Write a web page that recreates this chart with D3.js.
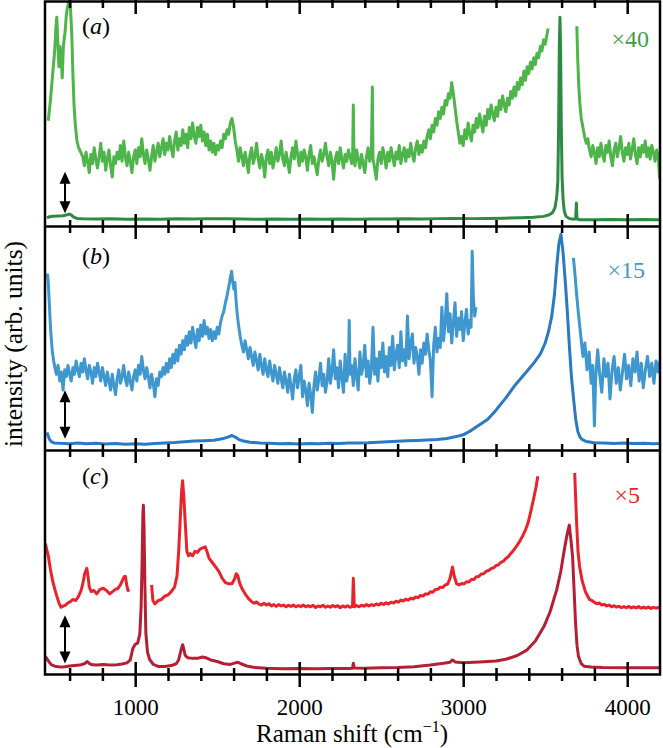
<!DOCTYPE html>
<html><head><meta charset="utf-8">
<script src="https://cdn.jsdelivr.net/npm/d3@7"></script>
<style>
body{margin:0;background:#fff}
svg{display:block}
svg text{font-family:"Liberation Serif","Times New Roman",Times,serif;}
</style>
</head><body>
<svg id="chart" width="663" height="748"></svg>
<script>
// ---------------- DATA (Raman shift in cm^-1, intensity in % of panel height) ----------------
const majorTicks = [1000, 2000, 3000, 4000];
const minorTicks = [600, 800, 1200, 1400, 1600, 1800, 2200, 2400, 2600, 2800, 3200, 3400, 3600, 3800];
const panelLabels = ["a", "b", "c"];
const factorLabels = ["×40", "×15", "×5"];

// (a) scaled ×40 spectrum
const aScaled = [[470,47],[483,56],[497,68],[509,78],[516,88],[522,93],[528,82],[535,71],[541,80],[548,77],[555,66],[562,80],[573,87],[580,94],[586,97],[595,100],[603,100],[609,92],[614,84],[620,68],[627,54],[635,45],[645,38],[655,35],[668,33],
[680,31],[690,27],[700,33],[710,29],[720,24],[730,32],[740,28],[750,35],[760,30],[770,26],[780,31],[790,37],[800,29],[810,33],[820,25],[830,30],[840,34],[850,27],[860,22],[870,31],[880,28],[890,33],[900,30],[910,36],[920,29],[930,38],[940,31],[950,27],[960,33],[970,29],[980,24],[990,31],[1000,34],[1010,28],[1020,35],[1030,31],[1040,39],[1050,32],[1060,28],[1070,34],[1080,30],[1090,25],[1100,31],[1110,36],[1120,29],[1130,33],[1140,37],[1150,31],
[1160,35],[1170,39],[1180,32],[1190,37],[1200,34],[1210,40],[1220,35],[1230,31],[1240,38],[1250,42],[1260,34],[1270,39],[1280,36],[1290,43],[1300,37],[1310,41],[1320,35],[1330,44],[1340,39],[1350,46],[1360,40],[1370,37],[1380,44],[1390,40],[1400,45],[1410,38],[1420,42],[1430,36],[1440,41],[1450,34],[1460,38],[1470,33],[1480,37],[1490,32],[1500,36],[1510,34],[1520,38],[1530,35],[1540,41],[1550,39],[1560,43],[1570,41],[1580,46],[1590,48],[1600,44],[1610,38],[1620,34],
[1630,29],[1640,35],[1650,31],[1660,27],[1670,33],[1680,29],[1690,24],[1700,32],[1710,35],[1720,28],[1730,31],[1740,37],[1750,30],[1760,26],[1770,32],[1780,29],[1790,22],[1800,31],[1810,34],[1820,28],[1830,33],[1840,26],[1850,30],[1860,35],[1870,29],[1880,32],[1890,38],[1900,30],[1910,27],[1920,33],[1930,29],[1940,24],[1950,31],[1960,35],[1970,30],[1980,38],[1990,32],[2000,27],[2010,33],[2020,29],[2030,34],[2040,31],[2050,25],[2060,32],[2070,36],[2080,28],[2090,31],[2100,27],[2110,23],[2120,30],[2130,34],[2140,29],[2150,32],[2160,37],[2170,31],[2180,27],[2190,33],[2200,29],[2210,21],[2220,30],[2230,33],[2240,28],[2250,35],[2260,30],[2270,26],[2280,32],[2290,29],[2300,34],[2310,31],[2320,28],[2326,33],[2330,54],[2334,31],[2340,27],[2350,34],[2360,30],[2370,26],[2380,32],[2390,28],[2400,24],[2410,31],[2420,35],[2430,29],[2440,32],[2446,62],[2450,30],[2460,26],[2470,21],[2480,30],[2490,33],[2500,28],[2510,35],[2520,31],[2530,26],[2540,33],[2550,29],[2560,35],[2570,31],[2580,27],[2590,33],[2600,30],[2610,36],[2620,28],[2630,32],[2640,35],[2650,29],[2660,34],[2670,31],[2680,37],[2690,32],[2700,29],[2710,35],[2720,38],[2730,32],[2740,36],[2750,33],[2760,38],[2770,35],
[2780,40],[2790,43],[2800,39],[2810,45],[2820,42],[2830,48],[2840,45],[2850,51],[2860,48],[2870,53],[2880,50],[2890,56],[2900,54],[2910,59],[2920,57],[2930,64],[2940,59],[2950,53],[2960,47],[2970,42],[2980,37],[2990,40],
[3000,36],[3010,43],[3020,39],[3030,46],[3040,41],[3050,38],[3060,45],[3070,42],[3080,48],[3090,44],[3100,50],[3110,46],[3120,42],[3130,49],[3140,45],[3150,52],[3160,48],[3170,54],[3180,50],[3190,47],[3200,53],[3210,49],[3220,56],[3230,52],[3240,58],[3250,54],[3260,51],[3270,57],[3280,54],[3290,60],[3300,57],[3310,62],[3320,58],[3330,64],[3340,61],[3350,66],[3360,63],[3370,69],[3380,65],[3390,71],[3400,68],[3410,73],[3420,70],[3430,75],[3440,72],[3450,77],[3460,75],[3470,80],[3480,78],[3490,83],[3500,81],[3510,85],[3518,88],[3520,null],
[3693,89],[3698,75],[3705,62],[3712,54],[3720,48],[3730,44],[3740,40],[3750,37],[3760,39],[3770,34],[3780,31],[3790,36],[3800,33],[3810,28],[3820,35],[3830,31],[3840,37],[3850,32],[3860,29],[3870,36],[3880,33],[3890,38],[3900,31],[3910,27],[3920,34],[3930,37],[3940,31],[3950,35],[3960,40],[3970,33],[3980,29],[3990,35],[4000,32],[4010,37],[4020,30],[4030,34],[4040,39],[4050,32],[4060,28],[4070,35],[4080,31],[4090,36],[4100,33],[4110,38],[4120,31],[4130,35],[4140,30],[4150,36],[4160,33],[4170,29],[4180,34],[4190,31],[4195,24],[4200,21]];

// (a) raw spectrum
const aRaw = [[462,3.8],[475,4.3],[500,4.6],[530,4.7],[560,4.8],[585,5.2],[600,5.5],[612,5.0],[625,4.2],[645,3.6],[680,3.4],[750,3.3],[850,3.4],[950,3.2],[1050,3.3],[1150,3.2],[1250,3.4],[1350,3.3],[1450,3.5],[1550,3.4],[1650,3.3],[1750,3.2],[1850,3.3],[1950,3.2],[2050,3.3],[2150,3.2],[2250,3.3],[2350,3.2],[2450,3.3],[2550,3.3],[2650,3.4],[2750,3.3],[2850,3.5],[2950,3.6],[3050,3.5],[3150,3.6],[3250,3.7],[3350,3.9],[3430,4.1],[3490,4.5],[3525,5.2],[3545,6.2],[3560,8.5],[3570,13],[3577,20],[3582,45],[3586,80],[3590,93],[3594,78],[3598,45],[3603,22],[3609,12],[3616,7],[3626,4.6],[3645,3.6],[3670,3.2],[3686,3.4],[3690,10.4],[3694,3.4],[3710,3.0],[3800,3.0],[3900,3.1],[4000,3.0],[4100,3.1],[4200,3.0]];

// (b) scaled ×15 spectrum
const bScaled = [[465,79],[470,75],[476,66],[482,57],[488,50],[495,44],[503,40],
[510,37],[520,34],[530,38],[540,31],[550,35],[560,27],[570,36],[580,33],[590,38],[600,34],[610,31],[620,37],[630,34],[640,40],[650,36],[660,33],[670,39],[680,35],[690,41],[700,36],[710,32],[720,38],[730,35],[740,30],[750,37],[760,33],[770,39],[780,35],[790,31],[800,37],[810,33],[820,29],[830,35],[840,31],[850,27],[860,34],[870,29],[880,25],[890,32],[900,36],[910,30],[920,33],[930,38],[940,32],[950,29],[960,35],[970,31],[980,27],[990,33],[1000,36],[1010,31],[1020,38],[1030,34],[1040,42],[1050,36],[1060,32],[1070,37],[1080,33],[1090,28],[1100,34],[1110,30],[1120,24],[1130,32],[1140,29],[1150,35],[1160,33],
[1170,37],[1180,34],[1190,39],[1200,35],[1210,41],[1220,37],[1230,43],[1240,39],[1250,45],[1260,40],[1270,47],[1280,43],[1290,49],[1300,45],[1310,51],[1320,47],[1330,53],[1340,48],[1350,55],[1360,50],[1370,46],[1380,54],[1390,49],[1400,56],[1410,51],[1420,58],[1430,52],[1440,55],[1450,50],[1460,54],[1470,49],[1480,53],[1490,50],[1500,55],[1510,52],[1520,57],[1530,60],[1540,62],[1550,66],[1560,69],[1570,73],[1580,77],[1588,80],[1595,75],[1602,72],[1608,75],[1615,67],[1622,61],[1630,56],[1640,51],[1650,47],[1660,44],
[1670,49],[1680,45],[1690,41],[1700,46],[1710,42],[1720,38],[1730,44],[1740,40],[1750,36],[1760,43],[1770,38],[1780,34],[1790,41],[1800,36],[1810,33],[1820,40],[1830,35],[1840,31],[1850,38],[1860,34],[1870,30],[1880,37],[1890,32],[1900,28],[1910,35],[1920,31],[1930,26],[1940,34],[1950,29],[1960,23],[1970,32],[1980,36],[1990,28],[2000,33],[2010,38],[2020,24],[2030,31],[2040,27],[2050,20],[2060,30],[2070,25],[2080,17],[2090,29],[2100,35],[2110,27],[2120,32],[2130,39],[2140,29],[2150,34],[2160,26],[2170,31],[2180,41],[2190,30],[2200,35],[2210,45],[2220,32],[2230,37],[2240,28],[2250,40],[2260,33],[2270,26],[2280,43],[2290,31],[2300,36],[2305,58],[2310,34],[2320,38],[2330,29],[2340,41],[2350,33],[2360,27],[2370,44],[2380,34],[2390,38],[2400,47],[2410,33],[2420,40],[2430,30],[2440,36],[2450,55],[2460,34],[2470,41],[2480,31],[2490,44],[2500,37],[2510,48],[2520,35],[2530,42],[2540,33],[2550,46],[2560,38],[2570,51],[2580,36],[2590,43],[2600,47],[2610,37],[2620,53],[2630,40],[2640,45],[2650,38],[2660,60],[2670,41],[2680,48],[2690,52],[2700,39],[2710,46],[2720,42],[2730,34],[2740,45],[2750,39],[2760,48],[2770,43],[2780,52],[2790,45],[2800,40],[2810,24],[2820,47],[2830,55],[2840,44],[2850,50],[2860,46],[2870,64],[2880,49],[2890,57],[2900,70],[2910,53],[2920,61],[2930,48],[2940,57],[2950,66],[2960,51],[2970,59],[2980,54],[2990,62],[3000,49],[3010,57],[3020,63],[3030,52],[3040,58],[3048,55],[3055,89],[3062,68],[3070,60],[3078,64],[3080,null],
[3672,86],[3680,80],[3690,71],[3700,63],[3710,56],[3720,49],[3730,42],[3742,48],[3755,36],[3768,44],[3780,30],[3790,38],[3800,11],[3808,33],[3820,45],[3832,34],[3845,26],[3858,41],[3870,33],[3883,39],[3895,23],[3908,36],[3920,42],[3933,30],[3946,37],[3958,27],[3971,35],[3984,43],[3996,32],[4009,38],[4022,29],[4035,41],[4048,35],[4060,44],[4073,31],[4086,39],[4098,28],[4111,36],[4124,42],[4137,33],[4150,39],[4163,30],[4176,40],[4189,35],[4200,40]];

// (b) raw spectrum
const bRaw = [[462,8],[468,6.8],[476,5.2],[488,4.0],[505,3.4],[540,3.2],[600,3.0],[650,3.3],[700,3.0],[760,3.2],[820,2.9],[880,3.1],[940,2.8],[1000,3.0],[1060,2.8],[1120,3.1],[1180,3.4],[1240,3.6],[1300,3.9],[1360,4.2],[1420,4.4],[1480,4.6],[1530,5.2],[1565,6.0],[1590,6.7],[1610,6.0],[1630,5.0],[1660,4.2],[1700,3.7],[1760,3.4],[1820,3.2],[1880,3.0],[1940,3.1],[2000,2.9],[2060,3.1],[2120,3.0],[2180,3.2],[2240,3.1],[2300,3.3],[2360,3.4],[2420,3.5],[2480,3.7],[2540,3.9],[2600,4.1],[2660,4.3],[2720,4.5],[2780,4.7],[2840,4.9],[2900,5.4],[2950,6.1],[3000,7.0],[3050,9.0],[3100,11.5],[3150,14.0],[3200,18.0],[3260,23.5],[3320,29.5],[3390,35.5],[3430,39.0],[3470,43.0],[3500,48.0],[3520,53.0],[3540,60.0],[3557,70.0],[3570,82.0],[3583,92.0],[3596,96.5],[3608,89.0],[3621,77.0],[3635,62.0],[3647,47.0],[3660,33.0],[3673,23.0],[3686,14.0],[3699,8.5],[3712,6.0],[3724,5.0],[3750,4.0],[3800,3.5],[3860,3.3],[3920,3.1],[3980,3.3],[4040,3.1],[4100,3.2],[4160,3.0],[4200,3.1]];

// (c) scaled ×5 spectrum
const cScaled = [[452,58.5],[460,56],[470,53],[483,47],[496,42],[510,38],[522,35],[535,32],[548,30],[560,30.5],[575,31],[590,32],[605,32.5],[620,33.5],[638,33],[655,35],[670,37.5],[682,41],[692,45],[705,47.4],[712,44],[720,39],[732,37],[748,37.5],[765,36],[785,38],[805,38.5],[825,37.5],[845,36],[862,37],[880,38],[895,38.5],[910,40],[922,42],[933,43.7],[941,43.7],[948,40],[956,37.5],[964,38],[966,null],
[1100,40],[1108,33],[1120,31.5],[1140,33],[1160,33.5],[1180,35],[1200,35.5],[1220,37],[1240,39],[1255,44],[1265,55],[1275,70],[1283,82],[1289,86.5],[1296,80],[1305,68],[1315,55],[1325,53],[1335,54],[1350,53],[1365,55],[1380,54.5],[1395,56],[1410,56.5],[1427,57],[1437,55],[1450,52],[1470,50],[1490,48],[1510,46],[1530,43],[1550,41],[1570,40.5],[1590,40.5],[1605,42.5],[1616,45],[1626,44],[1636,41],[1650,38.5],[1670,36],[1690,34],
[1710,32.5],[1725,31.8],[1740,32.4],[1755,31.4],[1770,31.0],[1785,31.8],[1800,31.0],[1815,31.6],[1830,30.6],[1845,31.2],[1860,30.4],[1875,31.2],[1890,30.6],[1905,31.0],[1920,30.2],[1935,30.9],[1950,30.4],[1965,31.0],[1980,30.2],[1995,30.8],[2010,30.3],[2025,31.0],[2040,30.2],[2055,30.7],[2070,30.2],[2085,30.9],[2100,29.9],[2115,30.6],[2130,30.2],[2145,30.9],[2160,30.0],[2175,30.6],[2190,30.0],[2205,30.8],[2220,30.2],[2235,30.7],[2250,29.8],[2265,30.6],[2280,30.1],[2295,30.7],[2310,30.0],[2325,30.4],[2330,43],[2336,30.2],[2350,30.8],[2365,30.2],[2380,30.9],[2395,30.5],[2410,31.2],[2425,30.6],[2440,31.2],[2455,30.8],[2470,31.5],[2485,31.0],[2500,31.8],[2515,31.3],[2530,32.0],[2545,31.5],[2560,32.3],[2575,31.9],[2590,32.7],[2605,32.3],[2620,33.2],[2635,32.8],[2650,33.6],[2665,33.2],[2680,34.1],[2695,33.7],[2710,34.6],[2725,34.3],[2740,35.3],[2755,35.0],[2770,36.0],[2785,35.8],[2800,36.9],[2815,36.7],[2830,37.9],[2845,38.0],[2860,39.0],[2875,38.8],[2890,40.0],[2905,40.3],[2920,43],[2935,48],[2945,44],[2960,40.5],[2975,40.0],[2990,40.6],[3005,40.4],[3020,41.4],[3035,41.3],[3050,42.4],[3065,42.4],[3080,43.6],[3095,43.7],[3110,44.9],[3125,45.0],[3140,46.1],[3155,46.4],[3170,47.3],[3185,47.6],[3200,48.6],[3215,49.0],[3230,50.1],[3245,50.6],[3260,51.8],[3275,52.6],[3290,54.0],[3305,55.2],[3320,56.8],[3335,58.3],[3350,60.2],[3365,62.2],[3380,64.6],[3395,67.6],[3410,72],[3428,78],[3445,84],[3455,88.5],[3460,null],
[3680,90],[3685,80],[3692,67],[3700,55],[3710,48],[3725,42],[3745,37],[3770,33.5],[3785,33],[3800,32.2],[3815,31.6],[3830,31.9],[3845,31.0],[3860,31.3],[3875,30.6],[3890,31.0],[3905,30.2],[3920,30.7],[3935,30.1],[3950,30.5],[3965,29.8],[3980,30.3],[3995,29.8],[4010,30.4],[4025,29.7],[4040,30.2],[4055,29.7],[4070,30.3],[4085,29.6],[4100,30.1],[4115,29.6],[4130,30.1],[4145,29.5],[4160,30.0],[4175,29.6],[4190,29.9],[4200,29.6]];

// (c) raw spectrum
const cRaw = [[452,8.1],[462,7.0],[475,5.6],[490,4.3],[510,3.7],[540,3.4],[570,3.5],[600,3.8],[630,4.0],[660,4.2],[690,4.8],[708,5.8],[722,4.8],[740,4.3],[770,4.2],[800,4.5],[830,4.3],[860,4.2],[890,4.4],[920,4.7],[950,5.2],[970,6.5],[985,11.5],[1000,13.5],[1015,14],[1028,18],[1036,30],[1042,50],[1047,72],[1050,75.6],[1054,65],[1059,40],[1065,18.5],[1075,10],[1088,6.7],[1110,4.5],[1140,3.6],[1180,3.6],[1220,4.0],[1250,4.8],[1265,6.5],[1278,10.5],[1289,13.3],[1296,11.5],[1305,8.5],[1320,7.5],[1350,7.2],[1380,7.2],[1410,7.8],[1430,7.5],[1460,6.5],[1500,5.8],[1540,4.8],[1580,4.5],[1610,5.2],[1625,5.5],[1645,4.8],[1680,3.8],[1720,3.2],[1800,2.8],[1900,2.6],[2000,2.7],[2100,2.6],[2200,2.7],[2300,2.7],[2325,2.8],[2330,5.0],[2336,2.9],[2400,2.8],[2500,3.0],[2600,3.1],[2700,3.5],[2800,4.2],[2880,5.0],[2920,5.5],[2935,6.5],[2950,5.6],[3000,5.2],[3100,5.6],[3200,6.0],[3260,6.8],[3330,8.5],[3390,11],[3440,15],[3493,21.5],[3530,28],[3570,37.8],[3595,46],[3616,55.5],[3632,62],[3647,66.7],[3657,60],[3667,52.6],[3676,38],[3685,23],[3694,13],[3703,8],[3720,4.8],[3737,3.7],[3780,3.3],[3850,3.1],[4000,3.0],[4100,3.0],[4200,3.0]];

// offset arrows [top, bottom] in % of panel height, at this Raman shift
const arrowShift = 572;
const arrowA = [24.3, 5.9];
const arrowB = [26.9, 5.2];
const arrowC = [26.4, 4.9];

// ---------------- LAYOUT / STYLE ----------------
const svg = d3.select("#chart");
const x = d3.scaleLinear().domain([450, 4200]).range([45, 660]);
const tops = [1.5, 226.5, 450.5];
const bottoms = [226.5, 450.5, 674.5];

const panels = [
  {scaled: aScaled, raw: aRaw, arrow: arrowA, cUp: "#4eb54a", cLo: "#2c8a43", fc: "#3e9e47", labBase: 33.5, facBase: 47, facRight: 649},
  {scaled: bScaled, raw: bRaw, arrow: arrowB, cUp: "#3f97cf", cLo: "#2a79c3", fc: "#3f97cf", labBase: 264, facBase: 278, facRight: 645},
  {scaled: cScaled, raw: cRaw, arrow: arrowC, cUp: "#e8232b", cLo: "#b41f34", fc: "#e8232b", labBase: 484, facBase: 503, facRight: 640}
];

const defs = svg.append("defs");

panels.forEach((p, i) => {
  const y = d3.scaleLinear().domain([0, 100]).range([bottoms[i], tops[i]]);
  defs.append("clipPath").attr("id", "clip" + i)
    .append("rect").attr("x", x.range()[0]).attr("y", tops[i])
    .attr("width", x.range()[1] - x.range()[0]).attr("height", bottoms[i] - tops[i]);
  const g = svg.append("g").attr("clip-path", `url(#clip${i})`);
  const line = d3.line().defined(d => d[1] != null).x(d => x(d[0])).y(d => y(d[1]));
  g.append("path").datum(p.raw).attr("d", line).attr("fill", "none")
    .attr("stroke", p.cLo).attr("stroke-width", 3).attr("stroke-linejoin", "round");
  g.append("path").datum(p.scaled).attr("d", line).attr("fill", "none")
    .attr("stroke", p.cUp).attr("stroke-width", 3).attr("stroke-linejoin", "round");

  // double arrow
  const ax = x(arrowShift), yT = y(p.arrow[0]), yB = y(p.arrow[1]);
  const hl = 12, hw = 5.5;
  svg.append("line").attr("x1", ax).attr("x2", ax).attr("y1", yT + hl - 1).attr("y2", yB - hl + 1)
    .attr("stroke", "#000").attr("stroke-width", 2);
  svg.append("path").attr("d", `M${ax},${yT}L${ax - hw},${yT + hl}L${ax + hw},${yT + hl}Z`).attr("fill", "#000");
  svg.append("path").attr("d", `M${ax},${yB}L${ax - hw},${yB - hl}L${ax + hw},${yB - hl}Z`).attr("fill", "#000");

  // panel label (a)/(b)/(c)
  const t = svg.append("text").attr("x", 82).attr("y", p.labBase)
    .attr("font-size", 24).attr("fill", "#000");
  t.append("tspan").text("(");
  t.append("tspan").attr("font-style", "italic").text(panelLabels[i]);
  t.append("tspan").text(")");

  svg.append("text").attr("x", p.facRight).attr("y", p.facBase).attr("text-anchor", "end")
    .attr("font-size", 24).attr("fill", p.fc).text(factorLabels[i]);
});

// frame
svg.append("rect").attr("x", 45).attr("y", tops[0]).attr("width", 615).attr("height", bottoms[2] - tops[0])
  .attr("fill", "none").attr("stroke", "#000").attr("stroke-width", 2.5);
[tops[1], tops[2]].forEach(yy => svg.append("line").attr("x1", 45).attr("x2", 660)
  .attr("y1", yy).attr("y2", yy).attr("stroke", "#000").attr("stroke-width", 2.5));

// crossing ticks on every horizontal boundary
[tops[0], tops[1], tops[2], bottoms[2]].forEach(yy => {
  const gM = svg.append("g").attr("transform", `translate(0,${yy})`)
    .call(d3.axisBottom(x).tickValues(majorTicks).tickSize(0).tickFormat(""));
  gM.select(".domain").remove();
  gM.selectAll("line").attr("y1", -12.5).attr("y2", 12.5).attr("stroke", "#000").attr("stroke-width", 2.5);
  const gm = svg.append("g").attr("transform", `translate(0,${yy})`)
    .call(d3.axisBottom(x).tickValues(minorTicks).tickSize(0).tickFormat(""));
  gm.select(".domain").remove();
  gm.selectAll("line").attr("y1", -6.5).attr("y2", 6.5).attr("stroke", "#000").attr("stroke-width", 2.5);
});

// tick labels
const gl = svg.append("g").attr("transform", `translate(0,${bottoms[2]})`)
  .call(d3.axisBottom(x).tickValues(majorTicks).tickSize(0).tickFormat(d3.format("d")));
gl.attr("font-family", null);
gl.select(".domain").remove();
gl.selectAll("text").attr("y", 40.5).attr("dy", 0)
  .attr("font-size", 23).attr("fill", "#000");

// axis titles
const xt = svg.append("text").attr("x", 352).attr("y", 742).attr("text-anchor", "middle")
  .attr("font-size", 25).attr("fill", "#000");
xt.append("tspan").text("Raman shift (cm");
xt.append("tspan").attr("font-size", 16).attr("dy", -10).text("−1");
xt.append("tspan").attr("dy", 10).text(")");

svg.append("text").attr("transform", "translate(22,344) rotate(-90)").attr("text-anchor", "middle")
  .attr("font-size", 25.5).attr("fill", "#000").text("intensity (arb. units)");
</script>
</body></html>
